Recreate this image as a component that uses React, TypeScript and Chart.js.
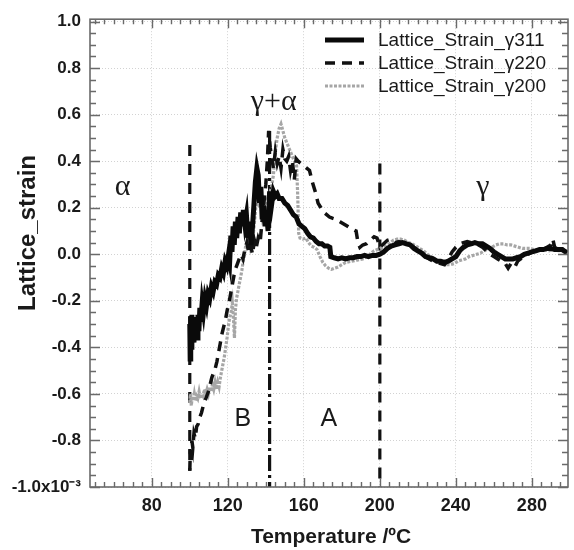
import React, { useEffect, useRef } from 'react';
import { Chart, registerables } from 'chart.js';

Chart.register(...registerables);

// ---- axis ticks ----
const xTicks = [80, 120, 160, 200, 240, 280];
const yTicks = [-1.0, -0.8, -0.6, -0.4, -0.2, 0.0, 0.2, 0.4, 0.6, 0.8, 1.0];

// ---- Lattice_Strain_γ311 ----
const t311 = [100, 100.2, 100.5, 100.8, 101.1, 101.4, 101.8, 102.2, 102.6, 103, 103.4, 103.8, 104.3, 104.8, 105.3, 105.8, 106.5, 107.2, 108, 108.8, 109.6, 110.5, 111.4, 112.3, 113.2, 114.1, 115, 115.9, 116.8, 117.7, 118.6, 119.5, 120.4, 121, 121.6, 122.2, 122.8, 123.4, 124, 124.7, 125.4, 126.1, 126.8, 127.5, 128.2, 129, 129.8, 130.6, 131.4, 132.2, 133, 133.8, 134.5, 135.3, 136, 136.7, 137.4, 138.1, 138.8, 139.6, 140.4, 141.2, 142, 143, 144, 145, 146, 147, 148.5, 150, 151.5, 153, 154.5, 156, 157.5, 159, 160.5, 162, 163.5, 165, 166.5, 168, 169.5, 171, 172.5, 173.7, 174.2, 176, 178, 180, 182, 184, 186, 188, 190, 192, 194, 196, 198, 200, 202, 204, 206, 208, 210, 212, 214, 216, 218, 220, 222, 224, 226, 228, 230, 232, 234, 236, 238, 240, 242, 244, 246, 248, 250, 252, 254, 256, 258, 260, 262, 264, 266, 268, 270, 272, 274, 276, 278, 280, 282, 284, 286, 288, 290, 292, 294, 296, 298.5];
const v311 = [-0.30, -0.45, -0.27, -0.40, -0.26, -0.37, -0.29, -0.38, -0.27, -0.35, -0.30, -0.36, -0.26, -0.33, -0.23, -0.29, -0.21, -0.25, -0.19, -0.22, -0.17, -0.19, -0.14, -0.16, -0.12, -0.13, -0.09, -0.10, -0.06, -0.08, -0.03, -0.05, 0.00, -0.03, 0.08, 0.01, 0.12, 0.04, 0.14, 0.07, 0.16, 0.09, 0.18, 0.12, 0.19, 0.13, 0.17, 0.07, 0.14, 0.04, 0.12, 0.22, 0.31, 0.37, 0.34, 0.22, 0.29, 0.15, 0.21, 0.12, 0.18, 0.10, 0.27, 0.21, 0.27, 0.25, 0.26, 0.24, 0.24, 0.22, 0.21, 0.19, 0.17, 0.16, 0.13, 0.12, 0.11, 0.09, 0.075, 0.07, 0.055, 0.045, 0.045, 0.035, 0.035, 0.03, -0.01, -0.015, -0.02, -0.015, -0.02, -0.015, -0.015, -0.01, -0.01, -0.005, -0.01, -0.005, -0.005, 0.0, 0.01, 0.025, 0.035, 0.04, 0.045, 0.05, 0.045, 0.04, 0.025, 0.015, 0.005, -0.01, -0.015, -0.02, -0.03, -0.03, -0.035, -0.03, -0.02, -0.01, 0.015, 0.03, 0.04, 0.045, 0.05, 0.045, 0.045, 0.035, 0.025, 0.01, 0.0, -0.01, -0.02, -0.02, -0.02, -0.015, -0.01, 0.0, 0.005, 0.01, 0.015, 0.02, 0.02, 0.025, 0.025, 0.02, 0.02, 0.02, 0.005];

// ---- Lattice_Strain_γ220 ----
const t220 = [100, 100.3, 100.7, 101.1, 101.6, 102.2, 102.9, 103.6, 104.4, 105.3, 106.2, 107.1, 108, 108.9, 109.8, 110.7, 111.6, 112.5, 113.4, 114.3, 115.2, 116.1, 117, 117.9, 118.8, 119.7, 120.6, 121.5, 122.4, 123.3, 124.2, 125.1, 126, 127, 128, 129, 130, 131, 132, 133, 134, 135, 136, 137, 138, 139, 140, 140.8, 141.5, 142.3, 143.2, 144, 145, 146, 147, 148, 149, 150, 151, 152, 153, 154, 155, 156, 157, 158.5, 160, 161.5, 163, 164.5, 166, 167.5, 169, 170.5, 172, 173.5, 175, 177, 179, 181, 183, 185, 187.5, 188.5, 189.5, 191, 193, 195, 197, 198.5, 200, 202, 204, 206, 208, 210, 212, 214, 216, 218, 220, 222, 224, 226, 228, 230, 232, 234, 236, 238, 240, 242, 244, 246, 248, 250, 252, 254, 256, 258, 260, 262, 264, 266, 267.5, 269, 271, 272.5, 274, 276, 278, 280, 282, 284, 286, 288, 290, 291, 292, 294, 296, 298.5];
const v220 = [-0.93, -0.84, -0.89, -0.80, -0.83, -0.77, -0.79, -0.74, -0.73, -0.70, -0.68, -0.65, -0.63, -0.61, -0.59, -0.56, -0.53, -0.51, -0.49, -0.46, -0.42, -0.38, -0.34, -0.31, -0.28, -0.24, -0.21, -0.17, -0.13, -0.09, -0.06, -0.04, -0.02, 0.0, -0.02, 0.02, 0.05, 0.01, 0.04, 0.0, 0.06, 0.03, 0.07, 0.05, 0.14, 0.22, 0.30, 0.40, 0.53, 0.46, 0.41, 0.37, 0.44, 0.39, 0.42, 0.37, 0.45, 0.41, 0.40, 0.42, 0.36, 0.40, 0.32, 0.41, 0.40, 0.39, 0.38, 0.37, 0.36, 0.31, 0.27, 0.22, 0.20, 0.18, 0.17, 0.16, 0.155, 0.15, 0.14, 0.13, 0.12, 0.11, 0.10, 0.05, 0.03, 0.04, 0.045, 0.06, 0.075, 0.07, 0.03, 0.045, 0.06, 0.065, 0.05, 0.055, 0.05, 0.045, 0.04, 0.03, 0.015, 0.0, -0.01, -0.02, -0.03, -0.035, -0.04, -0.045, -0.02, 0.01, 0.03, 0.045, 0.05, 0.055, 0.05, 0.045, 0.04, 0.03, 0.015, 0.0, -0.01, -0.02, -0.03, -0.04, -0.06, -0.04, -0.055, -0.03, -0.02, -0.01, 0.0, 0.01, 0.015, 0.025, 0.02, 0.03, 0.04, 0.065, 0.03, 0.02, 0.02, 0.01];

// ---- Lattice_Strain_γ200 ----
const t200 = [100, 100.4, 100.8, 101.3, 101.8, 102.4, 103, 103.6, 104.2, 104.9, 105.6, 106.3, 107, 107.7, 108.4, 109.1, 109.8, 110.5, 111.2, 111.9, 112.6, 113.3, 114, 114.7, 115.4, 116.1, 116.8, 117.5, 118.2, 118.9, 119.6, 120.3, 121, 121.7, 122.4, 123, 123.5, 124, 124.6, 125.3, 126, 126.7, 127.4, 128.1, 128.8, 129.5, 130.2, 130.9, 131.6, 132.3, 133, 133.7, 134.4, 135.1, 135.8, 136.5, 137.3, 138.1, 139, 140, 141, 142, 143, 144, 145, 146, 147, 148, 149, 150, 151, 152, 153, 154, 155, 156.2, 156.8, 157.3, 158, 159.5, 161, 162.5, 164, 165.5, 167, 168.5, 170, 171.5, 173, 174.5, 176, 178, 180, 182, 185, 188, 191, 194, 197, 200, 203, 205, 207, 209, 211, 213, 215, 217, 219, 221, 223, 225, 227, 229, 231, 233, 235, 237, 239, 241, 243, 245, 247, 249, 251, 253, 255, 257, 259, 261, 263, 265, 267, 269, 271, 273, 275, 277, 279, 281, 283, 285, 287, 289, 291, 293, 295, 297, 298.5];
const v200 = [-0.64, -0.60, -0.65, -0.61, -0.63, -0.60, -0.63, -0.61, -0.62, -0.59, -0.62, -0.60, -0.61, -0.58, -0.60, -0.58, -0.60, -0.57, -0.59, -0.56, -0.58, -0.55, -0.58, -0.55, -0.57, -0.53, -0.50, -0.47, -0.44, -0.40, -0.36, -0.31, -0.27, -0.25, -0.21, -0.28, -0.36, -0.24, -0.19, -0.16, -0.13, -0.10, -0.07, -0.03, 0.0, 0.04, 0.02, 0.07, 0.04, 0.09, 0.05, 0.11, 0.17, 0.24, 0.27, 0.20, 0.23, 0.17, 0.21, 0.19, 0.24, 0.26, 0.29, 0.34, 0.44, 0.50, 0.54, 0.56, 0.53, 0.50, 0.48, 0.46, 0.44, 0.42, 0.40, 0.38, 0.25, 0.09, 0.07, 0.065, 0.07, 0.05, 0.035, 0.03, 0.02, -0.01, -0.035, -0.05, -0.06, -0.065, -0.06, -0.055, -0.045, -0.035, -0.03, -0.025, -0.02, -0.005, 0.015, 0.025, 0.035, 0.045, 0.06, 0.065, 0.065, 0.06, 0.05, 0.045, 0.035, 0.025, 0.015, 0.0, -0.01, -0.02, -0.03, -0.04, -0.045, -0.045, -0.04, -0.03, -0.025, -0.02, -0.01, -0.005, 0.0, 0.005, 0.015, 0.025, 0.03, 0.04, 0.045, 0.045, 0.04, 0.04, 0.035, 0.03, 0.025, 0.025, 0.025, 0.02, 0.02, 0.02, 0.02, 0.015, 0.02, 0.015, 0.015, 0.01, 0.01];

// ---- phase boundaries (vertical marker lines) ----
const boundaryT = [100, 142, 200];
const boundaryTop = [0.47, 0.53, 0.39];
const boundaryBottom = [-0.93, -1.0, -1.0];

// ---- region labels ----
const regionText = ['α', 'γ+α', 'γ', 'B', 'A'];
const regionT = [64.7, 144.2, 254.2, 127.9, 173.2];
const regionV = [0.255, 0.62, 0.255, -0.74, -0.74];

const SANS = '"Liberation Sans", Arial, Helvetica, sans-serif';
const SERIF = '"Liberation Serif", "Times New Roman", serif';

const toXY = (ts: number[], vs: number[]) => ts.map((t, i) => ({ x: t, y: vs[i] }));

const decor = {
  id: 'decor',
  afterDraw(chart: any) {
    const { ctx, chartArea: a, scales } = chart;
    const x = scales.x;
    const y = scales.y;
    ctx.save();
    // inward tick marks on all four sides
    ctx.strokeStyle = '#6a6a6a';
    ctx.lineWidth = 1.4;
    ctx.beginPath();
    for (let t = 50; t <= 295; t += 5) {
      const major = xTicks.includes(t);
      const len = major ? 9 : 5;
      const px = Math.round(x.getPixelForValue(t)) + 0.5;
      ctx.moveTo(px, a.bottom);
      ctx.lineTo(px, a.bottom - len);
      ctx.moveTo(px, a.top);
      ctx.lineTo(px, a.top + len);
    }
    for (let k = -20; k <= 20; k++) {
      const v = k * 0.05;
      const major = k % 4 === 0;
      const len = major ? 10 : 6;
      const py = Math.round(y.getPixelForValue(v)) + 0.5;
      ctx.moveTo(a.left, py);
      ctx.lineTo(a.left + len, py);
      ctx.moveTo(a.right, py);
      ctx.lineTo(a.right - len, py);
    }
    ctx.stroke();
    ctx.lineWidth = 1.6;
    ctx.strokeRect(a.left, a.top, a.right - a.left, a.bottom - a.top);

    // legend
    const items = chart.data.datasets.filter((d: any) => d.inLegend);
    ctx.font = `19px ${SANS}`;
    ctx.textBaseline = 'middle';
    ctx.textAlign = 'left';
    items.forEach((d: any, i: number) => {
      const ly = 40 + i * 23;
      ctx.save();
      ctx.strokeStyle = d.borderColor;
      ctx.lineWidth = d.borderWidth;
      ctx.setLineDash(d.borderDash || []);
      ctx.beginPath();
      ctx.moveTo(325, ly);
      ctx.lineTo(364, ly);
      ctx.stroke();
      ctx.restore();
      ctx.fillStyle = '#1a1a1a';
      ctx.fillText(d.label, 378, ly + 1);
    });

    // region labels
    ctx.textAlign = 'center';
    ctx.textBaseline = 'alphabetic';
    ctx.fillStyle = '#1a1a1a';
    regionText.forEach((s, i) => {
      const isLatin = s === 'A' || s === 'B';
      ctx.font = isLatin ? `25px ${SANS}` : `30px ${SERIF}`;
      ctx.fillText(s, x.getPixelForValue(regionT[i]), y.getPixelForValue(regionV[i]));
    });

    // axis titles
    ctx.font = `bold 21px ${SANS}`;
    ctx.textBaseline = 'middle';
    ctx.fillText('Temperature /ºC', (a.left + a.right) / 2 + 2, 537);
    ctx.save();
    ctx.translate(28, 233);
    ctx.rotate(-Math.PI / 2);
    ctx.font = `bold 24px ${SANS}`;
    ctx.fillText('Lattice_strain', 0, 0);
    ctx.restore();
    ctx.restore();
  },
};

export default function App() {
  const ref = useRef<HTMLCanvasElement | null>(null);
  useEffect(() => {
    document.body.style.margin = '0';
    const canvas = ref.current;
    if (!canvas) return;
    const boundaryStyles = [
      { dash: [11, 8] },
      { dash: [16, 4, 3, 4] },
      { dash: [11, 8] },
    ];
    const boundarySets = boundaryT.map((t, i) => ({
      label: '',
      inLegend: false,
      data: [
        { x: t, y: boundaryTop[i] },
        { x: t, y: boundaryBottom[i] },
      ],
      borderColor: '#111111',
      borderWidth: 3.2,
      borderDash: boundaryStyles[i].dash,
      pointRadius: 0,
      order: 3,
    }));
    const chart = new Chart(canvas, {
      type: 'line',
      data: {
        datasets: [
          {
            label: 'Lattice_Strain_γ311',
            inLegend: true,
            data: toXY(t311, v311),
            borderColor: '#0a0a0a',
            borderWidth: 5,
            borderDash: [],
            pointRadius: 0,
            order: 0,
          },
          {
            label: 'Lattice_Strain_γ220',
            inLegend: true,
            data: toXY(t220, v220),
            borderColor: '#111111',
            borderWidth: 3.5,
            borderDash: [10, 7],
            pointRadius: 0,
            order: 1,
          },
          {
            label: 'Lattice_Strain_γ200',
            inLegend: true,
            data: toXY(t200, v200),
            borderColor: '#a6a6a6',
            borderWidth: 3.2,
            borderDash: [3, 1.5],
            pointRadius: 0,
            order: 2,
          },
          ...boundarySets,
        ] as any,
      },
      options: {
        animation: false,
        responsive: false,
        devicePixelRatio: 1,
        layout: { padding: { left: 0, top: 10, right: 6, bottom: 0 } },
        plugins: {
          legend: { display: false },
          tooltip: { enabled: false },
        },
        elements: { line: { tension: 0 } },
        scales: {
          x: {
            type: 'linear',
            min: 47.5,
            max: 299,
            afterBuildTicks: (s: any) => {
              s.ticks = xTicks.map((v) => ({ value: v }));
            },
            afterFit: (s: any) => {
              s.height = 63;
            },
            grid: { color: '#d2d2d2', lineWidth: 1, drawTicks: false },
            border: { display: false, dash: [1, 2] },
            ticks: {
              padding: 8,
              color: '#1a1a1a',
              font: { family: SANS, size: 18, weight: 'bold' },
              callback: (v: any) => String(v),
            },
          },
          y: {
            type: 'linear',
            min: -1.0,
            max: 1.01,
            afterBuildTicks: (s: any) => {
              s.ticks = yTicks.map((v) => ({ value: v }));
            },
            afterFit: (s: any) => {
              s.width = 90;
            },
            grid: { color: '#d2d2d2', lineWidth: 1, drawTicks: false },
            border: { display: false, dash: [1, 2] },
            ticks: {
              padding: 9,
              color: '#1a1a1a',
              font: { family: SANS, size: 17, weight: 'bold' },
              callback: (v: any) =>
                Math.abs(Number(v) + 1) < 1e-9 ? '-1.0x10⁻³' : Number(v).toFixed(1),
            },
          },
        },
      } as any,
      plugins: [decor],
    });
    return () => chart.destroy();
  }, []);
  return (
    <div style={{ width: 574, height: 550, background: '#ffffff' }}>
      <canvas ref={ref} width={574} height={550} style={{ display: 'block' }} />
    </div>
  );
}
